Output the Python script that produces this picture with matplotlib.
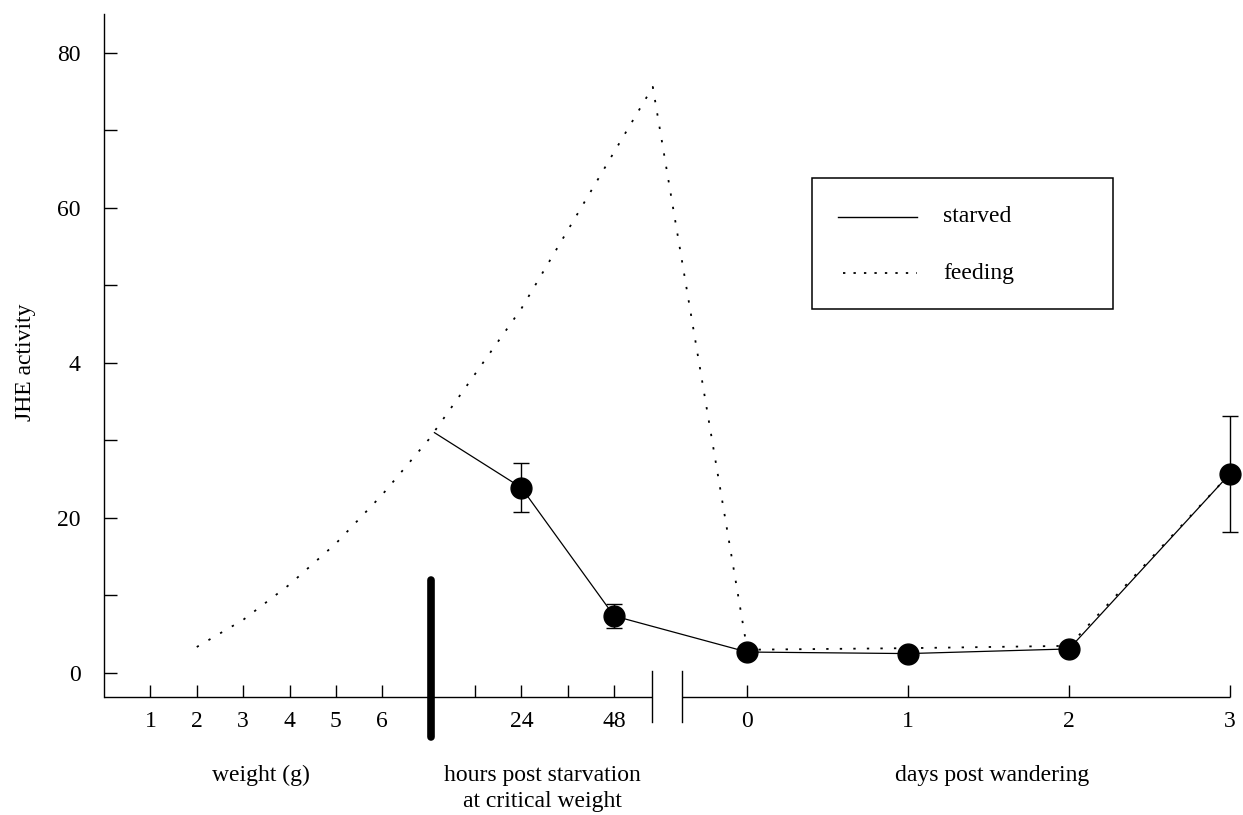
import matplotlib
matplotlib.use("Agg")
import matplotlib.pyplot as plt
from matplotlib.patches import Rectangle
from matplotlib.lines import Line2D

# ---------------- data ----------------
feed_weights = [2, 3, 4, 5, 6]
feed_weight_vals = [3.35, 6.85, 11.4, 16.7, 23.0]
feed_hours = [0, 24, 48, 58]
feed_hour_vals = [30.1, 47.0, 67.2, 75.6]
feed_days = [0, 1, 2, 3]
feed_day_vals = [3.0, 3.2, 3.5, 25.7]

starved_hours = [1.5, 24, 48]
starved_hour_vals = [31.0, 23.9, 7.35]
starved_hour_err = [0, 3.2, 1.6]
starved_days = [0, 1, 2, 3]
starved_day_vals = [2.7, 2.5, 3.1, 25.7]
starved_day_err = [0, 0, 0, 7.5]

weight_ticks = [1, 2, 3, 4, 5, 6]
hour_ticks = [12, 24, 36, 48]
hour_labels = ["", "24", "", "48"]
day_ticks = [0, 1, 2, 3]
y_ticks = [0, 10, 20, 30, 40, 50, 60, 70, 80]
y_labels = ["0", "", "20", "", "4", "", "60", "", "80"]

# ---------------- position mapping for the segmented x axis ----------------
def wpos(w):
    return w

def hpos(h):
    return 7 + h / 12.0

def dpos(d):
    return 13.87 + 3.47 * d

XMAX = dpos(3)
YMIN, YMAX = -3.1, 85

plt.rcParams['font.family'] = ['Liberation Serif', 'DejaVu Serif']
FS = 17

fig = plt.figure(figsize=(12.43, 8.15), dpi=100)
ax = fig.add_axes([104 / 1243, 1 - 697 / 815, (1230 - 104) / 1243, (697 - 14) / 815])
ax.set_xlim(0, XMAX)
ax.set_ylim(YMIN, YMAX)

# feeding (dotted)
fx = [wpos(w) for w in feed_weights] + [hpos(h) for h in feed_hours] + [dpos(d) for d in feed_days]
fy = feed_weight_vals + feed_hour_vals + feed_day_vals
dot_style = (0, (1.3, 6.2))
ax.plot(fx, fy, color='black', lw=1.3, linestyle=dot_style, dash_capstyle='butt', zorder=2)

# starved (solid)
sx = [hpos(h) for h in starved_hours] + [dpos(d) for d in starved_days]
sy = starved_hour_vals + starved_day_vals
ax.plot(sx, sy, color='black', lw=0.9, zorder=3)
mx = [hpos(h) for h in starved_hours[1:]] + [dpos(d) for d in starved_days]
my = starved_hour_vals[1:] + starved_day_vals
me = starved_hour_err[1:] + starved_day_err
eb = ax.errorbar(mx, my, yerr=me, fmt='o', color='black', markersize=15,
                 ecolor='black', elinewidth=1.0, capsize=6, capthick=1.0, zorder=4)
for art in [eb.lines[0]] + list(eb.lines[1]) + list(eb.lines[2]):
    art.set_clip_on(False)

# critical weight bar
ax.plot([hpos(0.6), hpos(0.6)], [12.0, -8.2], color='black', lw=5.5,
        solid_capstyle='round', clip_on=False, zorder=5)

# axes styling
for s in ['top', 'right', 'bottom']:
    ax.spines[s].set_visible(False)
ax.spines['left'].set_linewidth(1.0)

# broken bottom axis
brk_l, brk_r = 11.82, 12.47
ax.plot([0, brk_l], [YMIN, YMIN], color='black', lw=1.0, clip_on=False, solid_capstyle='butt')
ax.plot([brk_r, XMAX], [YMIN, YMIN], color='black', lw=1.0, clip_on=False, solid_capstyle='butt')
for bx in (brk_l, brk_r):
    ax.plot([bx, bx], [0.26, -6.3], color='black', lw=1.0, clip_on=False)

xt = [wpos(w) for w in weight_ticks] + [hpos(h) for h in hour_ticks] + [dpos(d) for d in day_ticks]
xl = [str(w) for w in weight_ticks] + hour_labels + [str(d) for d in day_ticks]
ax.set_xticks(xt)
ax.set_xticklabels(xl, fontsize=FS)
ax.set_yticks(y_ticks)
ax.set_yticklabels(y_labels, fontsize=FS)
ax.tick_params(axis='x', direction='in', length=8.5, width=1.0, pad=10)
ax.tick_params(axis='y', direction='in', length=9.5, width=1.0, pad=17)

# axis / section labels
fig.text(25 / 1243, 1 - 362 / 815, "JHE activity", rotation=90, ha='center', va='center', fontsize=FS)
fig.text(261 / 1243, 1 - 775 / 815, "weight (g)", ha='center', va='center', fontsize=FS)
fig.text(542 / 1243, 1 - 775 / 815, "hours post starvation", ha='center', va='center', fontsize=FS)
fig.text(542 / 1243, 1 - 801 / 815, "at critical weight", ha='center', va='center', fontsize=FS)
fig.text(992 / 1243, 1 - 775 / 815, "days post wandering", ha='center', va='center', fontsize=FS)

# legend (drawn as a box)
def F(px, py):
    return (px / 1243, 1 - py / 815)

x0, y0 = F(812, 309)
x1, y1 = F(1113, 178)
fig.add_artist(Rectangle((x0, y0), x1 - x0, y1 - y0, transform=fig.transFigure,
                         fill=False, edgecolor='black', lw=1.1))
a, b = F(838, 217); c, _ = F(917, 217)
fig.add_artist(Line2D([a, c], [b, b], transform=fig.transFigure, color='black', lw=1.0))
a, b = F(843, 273); c, _ = F(917, 273)
fig.add_artist(Line2D([a, c], [b, b], transform=fig.transFigure, color='black', lw=1.3,
                      linestyle=(0, (1.3, 4.5))))
tx, ty = F(943, 217)
fig.text(tx, ty, "starved", ha='left', va='center', fontsize=FS)
tx, ty = F(943, 273)
fig.text(tx, ty, "feeding", ha='left', va='center', fontsize=FS)

fig.savefig("out.png", dpi=100, facecolor='white')
